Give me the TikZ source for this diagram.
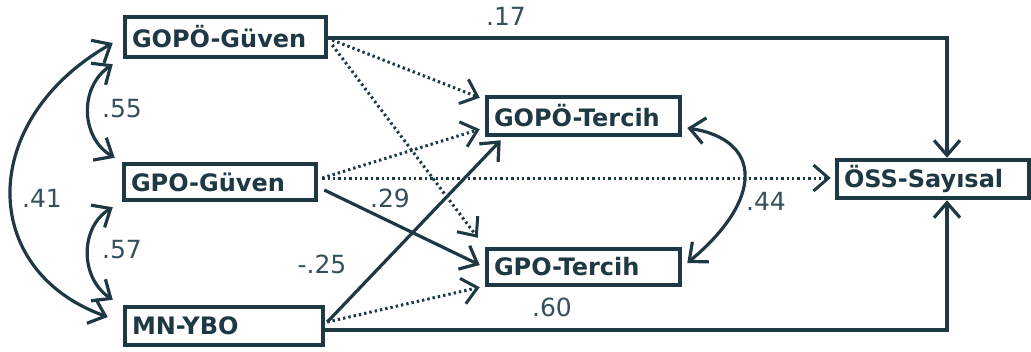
\documentclass[tikz,border=0pt]{standalone}
\usepackage{fontspec}
\setmainfont{DejaVu Sans}
\usetikzlibrary{arrows.meta,calc}
\definecolor{ink}{HTML}{1F3944}
\definecolor{labink}{HTML}{34505B}
\begin{document}
\begin{tikzpicture}[x=1pt,y=-1pt,
  box/.style={draw=ink, line width=4.5pt, text=ink, inner xsep=7pt, inner ysep=0pt,
    align=left, font=\fontsize{24}{26}\selectfont\bfseries},
  lab/.style={text=labink, inner sep=0pt, font=\fontsize{25}{27}\selectfont},
  >={Straight Barb[length=15pt,width=26pt]},
  conn/.style={draw=ink, line width=3.2pt, ->},
  dotconn/.style={conn, line width=3pt, dash pattern=on 2.4pt off 3pt},
  bi/.style={draw=ink, line width=3.2pt, <->}]
\useasboundingbox (0,0) rectangle (1031,351);
% boxes
\node[box, text width=187pt, minimum height=40pt] (gg)  at (225.5,37) {GOPÖ-Güven};
\node[box, text width=178pt, minimum height=36pt] (gp)  at (220,182)  {GPO-Güven};
\node[box, text width=184pt, minimum height=38pt] (mn)  at (224,326)  {MN-YBO};
\node[box, text width=179pt, minimum height=38pt] (gt)  at (583.5,116) {GOPÖ-Tercih};
\node[box, text width=179pt, minimum height=36pt] (gpt) at (583.5,267) {GPO-Tercih};
\node[box, text width=178pt, minimum height=38pt] (oss) at (933,179)  {ÖSS-Sayısal};
% direct paths to OSS
\draw[conn] ([yshift=-1pt]gg.east) -| ([xshift=14pt]oss.north);
\draw[conn] ([yshift=-4pt]mn.east) -| ([xshift=14pt]oss.south);
% dotted paths
\draw[dotconn] ($(gg.east)+(4,3)$) -- ($(gt.north west)+(-5,3)$);
\draw[dotconn] ($(gg.east)+(4,8)$) -- ($(gpt.north west)+(-7,-9)$);
\draw[dotconn] ($(gp.east)+(4,-4)$) -- ($(gt.south west)+(-5,-8)$);
\draw[dotconn] ($(gp.east)+(4,-4)$) -- ($(oss.west)+(-4,-1)$);
\draw[dotconn] ($(mn.east)+(2,-4)$) -- ($(gpt.south west)+(-5,0)$);
% solid paths
\draw[conn] ($(gp.east)+(6,8)$) -- ($(gpt.west)+(-5,-2)$);
\draw[conn] ($(mn.east)+(2,-4)$) -- ($(gt.south west)+(16,3)$);
% correlations
\draw[bi] ($(gt.east)+(5,12)$) .. controls +(76,12) and +(76,-63) .. ($(gpt.east)+(5,-4)$);
\draw[bi] ($(gg.south west)+(-10,5)$) .. controls +(-34,23) and +(-34,-20) .. ($(gp.north west)+(-7,-4)$);
\draw[bi] ($(gp.south west)+(-9,5)$) .. controls +(-33,20) and +(-33,-22) .. ($(mn.north west)+(-10,-5)$);
\draw[bi] ($(gg.west)+(-10,6)$) .. controls +(-135,77) and +(-130,-47) .. ($(mn.west)+(-15,-9)$);
% labels
\node[lab] (l17) at (506,16)  {.17};
\node[lab] (l60) at (552,307) {.60};
\node[lab] (l55) at (122,109) {.55};
\node[lab] (l57) at (122,250) {.57};
\node[lab] (l41) at (42,198)  {.41};
\node[lab] (l25) at (322,264) {-.25};
\node[lab] (l29) at (390,198) {.29};
\node[lab] (l44) at (766,201) {.44};
\end{tikzpicture}
\end{document}
